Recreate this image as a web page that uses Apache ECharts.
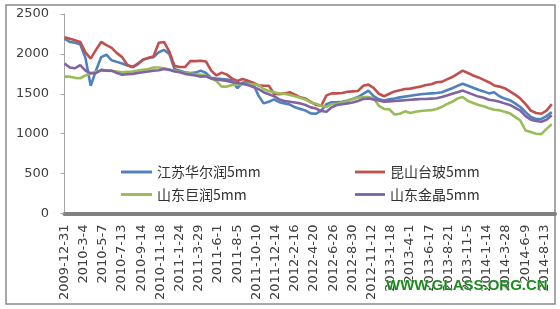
<!DOCTYPE html>
<html>
<head>
<meta charset="utf-8">
<script src="https://cdn.jsdelivr.net/npm/echarts@6/dist/echarts.min.js"></script>
<style>
html,body{margin:0;padding:0;background:#fff;}
#chart{width:560px;height:309px;}
</style>
</head>
<body>
<div id="chart"></div>
<script>
// Tick labels (every Nth category of the original daily series)
const tickLabels = ['2009-12-31','2010-3-4','2010-5-7','2010-7-13','2010-9-14','2010-11-18','2011-1-24','2011-3-29','2011-6-1','2011-8-5','2011-10-10','2011-12-14','2012-2-16','2012-4-20','2012-6-26','2012-8-30','2012-11-12','2013-1-18','2013-4-1','2013-6-17','2013-8-21','2013-11-5','2014-1-14','2014-3-28','2014-6-9','2014-8-13'];
// samples read per tick-label interval
const samplesPerTick = 3.664;

const seriesNames = ['江苏华尔润5mm','昆山台玻5mm','山东巨润5mm','山东金晶5mm'];

const jiangsuHuaerrun = [2190,2150,2140,2120,1950,1600,1790,1960,1990,1920,1900,1880,1855,1835,1870,1930,1950,1960,2020,2050,2000,1810,1790,1770,1760,
1765,1790,1760,1700,1690,1685,1680,1665,1570,1640,1640,1625,1480,1380,1400,1430,1395,1380,1365,1330,1310,1290,1255,
1250,1290,1370,1395,1395,1400,1415,1435,1460,1500,1540,1470,1430,1415,1430,1440,1455,1465,1475,1485,1495,1500,1505,1510,
1520,1545,1570,1600,1625,1600,1575,1550,1530,1505,1520,1470,1440,1420,1380,1335,1270,1210,1185,1185,1220,1270];

const kunshanTaibo = [2210,2190,2170,2150,2020,1940,2050,2150,2110,2075,2010,1960,1860,1835,1880,1925,1950,1970,2140,2150,2030,1850,1835,1835,1910,
1910,1915,1905,1790,1730,1765,1740,1690,1660,1685,1665,1640,1605,1600,1600,1500,1495,1505,1520,1490,1455,1440,1400,
1360,1350,1480,1505,1505,1510,1525,1530,1535,1600,1615,1575,1500,1470,1500,1530,1545,1560,1565,1580,1590,1610,1620,1645,
1650,1680,1710,1750,1790,1760,1730,1705,1675,1645,1605,1590,1570,1530,1490,1440,1370,1290,1260,1250,1290,1370];

const shandongJurun = [1715,1715,1700,1695,1730,1760,1775,1790,1790,1785,1780,1770,1775,1780,1790,1800,1810,1830,1830,1820,1805,1790,1775,1760,1755,
1745,1740,1725,1700,1660,1590,1590,1610,1615,1620,1625,1620,1610,1560,1535,1520,1505,1500,1485,1470,1450,1430,1390,
1375,1350,1335,1370,1375,1390,1410,1435,1450,1460,1460,1440,1350,1310,1305,1240,1250,1280,1260,1275,1285,1290,1295,1310,
1335,1370,1400,1440,1460,1410,1385,1360,1345,1320,1300,1295,1275,1255,1210,1165,1040,1020,1000,995,1060,1120];

const shandongJinjing = [1880,1830,1820,1860,1790,1755,1760,1800,1790,1790,1760,1740,1745,1750,1760,1770,1780,1790,1795,1810,1800,1780,1770,1750,1740,
1730,1715,1720,1690,1680,1670,1660,1645,1635,1625,1610,1585,1560,1520,1495,1470,1430,1410,1400,1390,1380,1360,1330,
1315,1285,1275,1330,1360,1370,1380,1390,1410,1435,1440,1430,1415,1400,1405,1410,1415,1420,1425,1430,1435,1435,1440,1445,
1460,1480,1500,1520,1540,1515,1490,1465,1450,1425,1415,1400,1380,1360,1325,1290,1220,1175,1160,1150,1175,1230];

const yTicks = {min:0, max:2500, interval:500};

const colors = ['#4F81BD','#C0504D','#9BBB59','#8064A2'];
const allValues = [jiangsuHuaerrun, kunshanTaibo, shandongJurun, shandongJinjing];

function toPoints(arr){ return arr.map((v,i)=>[i/samplesPerTick, v]); }

const chart = echarts.init(document.getElementById('chart'), null, {renderer:'canvas'});

const legendFont = {fontSize:14, color:'#333333', fontFamily:'Noto Sans CJK SC'};
const barIcon = 'path://M0,0L32,0L32,3L0,3Z';
function legendAt(name, left, top, w){
  return {data:[{name:name, icon:barIcon}], left:left, top:top, padding:0, itemWidth:w, itemHeight:3, icon:barIcon,
    textStyle:legendFont, selectedMode:false};
}

chart.setOption({
  backgroundColor:'#ffffff',
  animation:false,
  color:colors,
  grid:{left:64.5, right:5, top:14, bottom:95.5, containLabel:false},
  legend:[
    legendAt(seriesNames[0],121,165,31),
    legendAt(seriesNames[1],355,165,30),
    legendAt(seriesNames[2],121,187.5,31),
    legendAt(seriesNames[3],355,187.5,30)
  ],
  xAxis:{
    type:'value', min:0, max:25.55, interval:1, offset:1,
    axisLine:{show:true, lineStyle:{color:'#808080', width:4}},
    axisTick:{show:false},
    splitLine:{show:false},
    axisLabel:{
      rotate:90, margin:10, fontSize:13, color:'#404040', fontFamily:'DejaVu Sans',
      showMaxLabel:false,
      formatter:function(v){
        const r = Math.round(v);
        return (Math.abs(v-r)<1e-6 && tickLabels[r]!==undefined) ? tickLabels[r] : '';
      }
    }
  },
  yAxis:{
    type:'value', min:yTicks.min, max:yTicks.max, interval:yTicks.interval, offset:1.5,
    axisLine:{show:true, lineStyle:{color:'#a6a6a6', width:1}},
    axisTick:{show:true, length:4, lineStyle:{color:'#a6a6a6'}},
    splitLine:{show:false},
    axisLabel:{fontSize:13, color:'#404040', margin:14, fontFamily:'DejaVu Sans',
      formatter:function(v){ return String(v); }}
  },
  series: seriesNames.map((name,i)=>({
    name:name, type:'line', data:toPoints(allValues[i]),
    showSymbol:false, symbol:'none', smooth:false,
    lineStyle:{width:2.6, color:colors[i]},
    itemStyle:{color:colors[i]}
  })),
  graphic:[
    {type:'rect', shape:{x:6, y:5, width:549, height:299}, style:{fill:'none', stroke:'#8a8a8a', lineWidth:1.5}, silent:true, z:-1},
    {type:'text', x:386, y:285.5, style:{text:'WWW.GLASS.ORG.CN', font:'bold 15px "Liberation Sans", Arial, sans-serif', fill:'#1f8a1f', stroke:'#ffffff', lineWidth:0.5, textVerticalAlign:'middle'}, silent:true, z:100}
  ]
});
</script>
</body>
</html>
